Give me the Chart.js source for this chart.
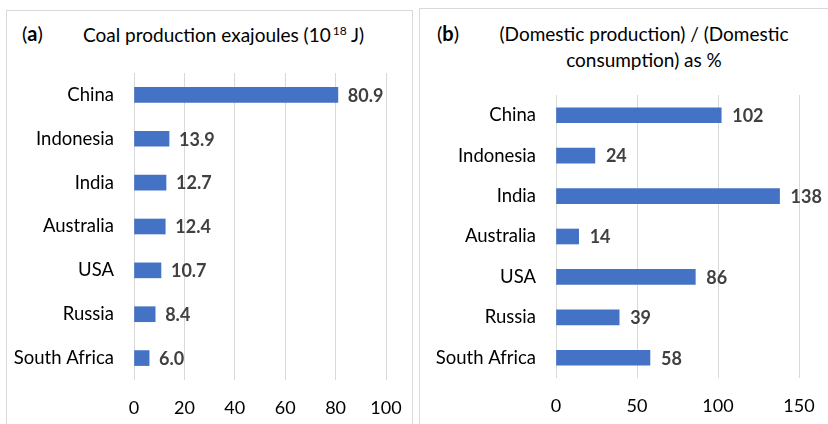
<!DOCTYPE html>
<html><head><meta charset="utf-8">
<script src="https://cdn.jsdelivr.net/npm/chart.js@4/dist/chart.umd.min.js"></script>
<style>
html,body{margin:0;padding:0;background:#fff;width:828px;height:424px;overflow:hidden;font-family:Lato,"Open Sans",sans-serif;}
.panel{position:absolute;border:1px solid #d9d9d9;box-sizing:border-box;}
.cv{position:absolute;top:0;}
.t{position:absolute;color:#000;white-space:nowrap;font-size:19px;}
.lab{position:absolute;font-size:20px;color:#000;}
.lab b{font-weight:700;}
</style></head>
<body>
<div class="panel" style="left:6px;top:10px;width:407px;height:430px;"></div>
<div class="panel" style="left:419px;top:8px;width:430px;height:430px;"></div>
<div class="lab" style="left:22px;top:21px;">(<b>a</b>)</div>
<div class="t" style="left:83px;top:23px;">Coal production exajoules (10<sup style="font-size:12px;vertical-align:7px;margin-left:2px">18</sup> J)</div>
<div class="lab" style="left:437px;top:21px;">(<b>b</b>)</div>
<div class="t" style="left:494px;top:21px;width:300px;text-align:center;line-height:26px;white-space:normal;">(Domestic production) / (Domestic<br>consumption) as %</div>
<div class="cv" style="left:0;width:414px;height:424px;"><canvas id="ca"></canvas></div>
<div class="cv" style="left:414px;width:414px;height:424px;"><canvas id="cb"></canvas></div>
<script>
const categories = ["China","Indonesia","India","Australia","USA","Russia","South Africa"];
const productionEJ = [80.9, 13.9, 12.7, 12.4, 10.7, 8.4, 6.0];
const selfSufficiencyPct = [102, 24, 138, 14, 86, 39, 58];
const ticksA = [0,20,40,60,80,100];
const ticksB = [0,50,100,150];

const FONT = "Lato";
const labelPlugin = {
  id: 'vlabels',
  afterDatasetsDraw(chart, args, opts) {
    const ctx = chart.ctx;
    const meta = chart.getDatasetMeta(0);
    const data = chart.data.datasets[0].data;
    ctx.save();
    ctx.font = "bold 18px " + FONT;
    ctx.fillStyle = "#404040";
    ctx.textAlign = "left";
    ctx.textBaseline = "middle";
    meta.data.forEach((el, i) => {
      ctx.fillText(opts.fmt(data[i]), el.x + opts.gap, el.y + 1);
    });
    ctx.restore();
  }
};

function make(id, values, tickVals, fmt, cfg) {
  const stepSize = tickVals[1] - tickVals[0];
  return new Chart(document.getElementById(id), {
    type: 'bar',
    data: { labels: categories, datasets: [{ data: values, backgroundColor: '#4472C4', borderWidth: 0, barThickness: cfg.bar }] },
    options: {
      indexAxis: 'y',
      responsive: true, maintainAspectRatio: false, animation: false,
      layout: { padding: { top: cfg.top, right: cfg.right, left: 0, bottom: 0 } },
      plugins: { legend: { display: false }, tooltip: { enabled: false }, vlabels: { fmt: fmt, gap: cfg.gap } },
      scales: {
        x: {
          min: tickVals[0], max: tickVals[tickVals.length-1],
          ticks: { stepSize: stepSize, color: '#000', font: { family: FONT, size: 18 }, padding: 0, maxRotation: 0 },
          grid: { color: '#d9d9d9', lineWidth: 1, drawTicks: true, tickLength: cfg.tickLen, tickColor: 'rgba(0,0,0,0)' },
          border: { display: false },
          afterFit(s) { s.height = cfg.xh; }
        },
        y: {
          ticks: { color: '#000', font: { family: FONT, size: 18.5 }, padding: cfg.ypad },
          grid: { display: false, drawTicks: false },
          border: { display: false },
          afterFit(s) { s.width = cfg.yw; }
        }
      }
    },
    plugins: [labelPlugin]
  });
}
make('ca', productionEJ, ticksA, v => v.toFixed(1), { top: 73, right: 28, xh: 44, yw: 134, bar: 15, gap: 10, tickLen: 17, ypad: 20 });
make('cb', selfSufficiencyPct, ticksB, v => String(Math.round(v)), { top: 95, right: 29, xh: 46, yw: 142, bar: 15, gap: 11, tickLen: 17, ypad: 20 });
</script>
</body></html>
